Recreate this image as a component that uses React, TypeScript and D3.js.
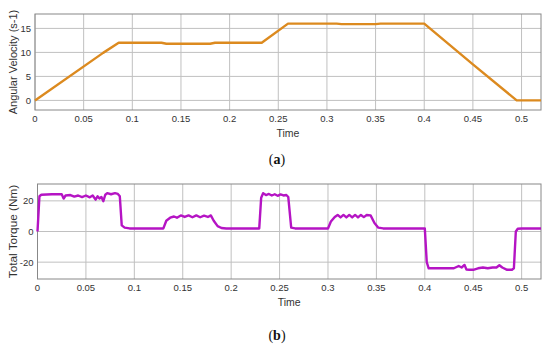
import React, { useEffect, useRef } from 'react';
import * as d3 from 'd3';

// angular velocity (s-1) vs time
const speedTime = [0, 0.07, 0.086, 0.13, 0.135, 0.18, 0.185, 0.233, 0.26, 0.31, 0.315, 0.35, 0.355, 0.4, 0.45, 0.495, 0.52];
const speedValue = [0, 9.9, 12, 12, 11.8, 11.8, 12, 12, 16, 16, 15.9, 15.9, 16, 16, 7.5, 0, 0];

// total torque (Nm) vs time
const torqueTime = [
  0, 0.002, 0.004, 0.015, 0.025, 0.027, 0.029, 0.034, 0.038, 0.042, 0.046, 0.05, 0.054, 0.057, 0.06, 0.062, 0.064, 0.066, 0.068, 0.07, 0.072, 0.076, 0.08, 0.083, 0.085,
  0.087, 0.09, 0.095, 0.13, 0.133, 0.137, 0.141, 0.144, 0.148, 0.152, 0.156, 0.16, 0.164, 0.168, 0.172, 0.176, 0.179, 0.182, 0.186, 0.19, 0.195, 0.229,
  0.231, 0.233, 0.236, 0.239, 0.242, 0.245, 0.248, 0.251, 0.254, 0.257, 0.259, 0.262, 0.266, 0.3,
  0.303, 0.307, 0.31, 0.313, 0.316, 0.319, 0.322, 0.325, 0.328, 0.331, 0.334, 0.337, 0.34, 0.344, 0.348, 0.352, 0.357, 0.4,
  0.402, 0.404, 0.43, 0.435, 0.438, 0.441, 0.443, 0.446, 0.45, 0.455, 0.46, 0.465, 0.47, 0.474, 0.477, 0.48, 0.485, 0.49, 0.492, 0.494, 0.496, 0.5, 0.52,
];
const torqueValue = [
  0, 23, 24, 24.3, 24.3, 21.5, 23.5, 23.8, 22.8, 23.5, 22.5, 23.5, 22.3, 23.5, 20.8, 23, 21.5, 22.5, 19.8, 24, 25, 24.3, 25, 24.5, 23,
  4, 2.5, 2, 2, 7, 9, 9.8, 9, 10.5, 9.5, 10.5, 9.3, 10.5, 9.3, 10.3, 9.5, 10.5, 7, 3.5, 2.3, 2, 2,
  22, 25, 23.8, 24.5, 23.5, 24.3, 23.3, 24.2, 23.5, 23.8, 22.5, 2.5, 2, 2,
  6.5, 9.5, 10.8, 9.2, 10.8, 9.2, 10.8, 9.2, 10.8, 9.2, 10.8, 9.4, 10.8, 10.5, 5.5, 2.5, 2, 2,
  -20, -24, -24, -22.5, -23.5, -21.8, -24.8, -25, -25, -24, -23.5, -24, -23.5, -23.5, -22, -23.5, -25, -25, -24, 0, 1.8, 2, 2,
];

const timeTicks = [0, 0.05, 0.1, 0.15, 0.2, 0.25, 0.3, 0.35, 0.4, 0.45, 0.5];
const speedTicks = [0, 5, 10, 15];
const torqueTicks = [-20, 0, 20];

const App = () => {
  const ref = useRef<SVGSVGElement>(null);

  useEffect(() => {
    if (!ref.current) return;
    const svg = d3.select(ref.current);
    svg.selectAll('*').remove();
    svg.append('rect').attr('width', 550).attr('height', 350).attr('fill', '#fff');

    const drawPanel = (opts: any) => {
      const { top, bottom, left, right, yDomain, yTicks, xs, ys, color, ylabel, ylabelSize, tag, tagY } = opts;
      const x = d3.scaleLinear().domain([0, 0.52]).range([left, right]);
      const y = d3.scaleLinear().domain(yDomain).range([bottom, top]);
      const g = svg.append('g');

      g.append('g')
        .selectAll('line')
        .data(timeTicks)
        .join('line')
        .attr('x1', d => x(d)).attr('x2', d => x(d))
        .attr('y1', top).attr('y2', bottom)
        .attr('stroke', '#c0c0c0').attr('stroke-width', 1);
      g.append('g')
        .selectAll('line')
        .data(yTicks)
        .join('line')
        .attr('x1', left).attr('x2', right)
        .attr('y1', d => y(d)).attr('y2', d => y(d))
        .attr('stroke', '#c0c0c0').attr('stroke-width', 1);

      g.append('rect')
        .attr('x', left).attr('y', top)
        .attr('width', right - left).attr('height', bottom - top)
        .attr('fill', 'none').attr('stroke', '#888').attr('stroke-width', 1);

      // tick labels
      g.append('g')
        .selectAll('text')
        .data(timeTicks)
        .join('text')
        .attr('x', d => x(d)).attr('y', bottom + 12)
        .attr('text-anchor', 'middle')
        .attr('font-family', 'Liberation Sans, Arial, sans-serif')
        .attr('font-size', 9.5).attr('fill', '#333')
        .text(d => String(d));
      g.append('g')
        .selectAll('text')
        .data(yTicks)
        .join('text')
        .attr('x', left - 4).attr('y', d => y(d) + 3.5)
        .attr('text-anchor', 'end')
        .attr('font-family', 'Liberation Sans, Arial, sans-serif')
        .attr('font-size', 9.5).attr('fill', '#333')
        .text(d => String(d));

      g.append('text')
        .attr('x', (left + right) / 2).attr('y', bottom + 27)
        .attr('text-anchor', 'middle')
        .attr('font-family', 'Liberation Sans, Arial, sans-serif')
        .attr('font-size', 10.5).attr('fill', '#333')
        .text('Time');

      g.append('text')
        .attr('transform', `translate(17,${(top + bottom) / 2}) rotate(-90)`)
        .attr('text-anchor', 'middle')
        .attr('font-family', 'Liberation Sans, Arial, sans-serif')
        .attr('font-size', ylabelSize).attr('fill', '#333')
        .text(ylabel);

      const pts = xs.map((t: number, i: number) => [t, ys[i]] as [number, number]);
      const line = d3.line<[number, number]>().x(d => x(d[0])).y(d => y(d[1]));
      g.append('path')
        .datum(pts)
        .attr('fill', 'none')
        .attr('stroke', color)
        .attr('stroke-width', 2.4)
        .attr('stroke-linejoin', 'round')
        .attr('d', line);

      const label = g.append('text')
        .attr('x', 277).attr('y', tagY)
        .attr('text-anchor', 'middle')
        .attr('font-family', 'Liberation Serif, Times New Roman, serif')
        .attr('font-size', 14).attr('fill', '#111');
      label.append('tspan').text('(');
      label.append('tspan').attr('font-weight', 'bold').text(tag);
      label.append('tspan').text(')');
    };

    drawPanel({
      top: 14, bottom: 110, left: 35, right: 541,
      yDomain: [-2, 18], yTicks: speedTicks,
      xs: speedTime, ys: speedValue,
      color: '#dc8a1f', ylabel: 'Angular Velocity (s-1)', ylabelSize: 11, tag: 'a', tagY: 164,
    });
    drawPanel({
      top: 184, bottom: 279, left: 37.5, right: 541,
      yDomain: [-31, 31], yTicks: torqueTicks,
      xs: torqueTime, ys: torqueValue,
      color: '#b514c4', ylabel: 'Total Torque (Nm)', ylabelSize: 11.8, tag: 'b', tagY: 340,
    });
  }, []);

  return (
    <svg
      ref={ref}
      width={550}
      height={350}
      style={{ position: 'absolute', left: 0, top: 0 }}
    />
  );
};

export default App;
